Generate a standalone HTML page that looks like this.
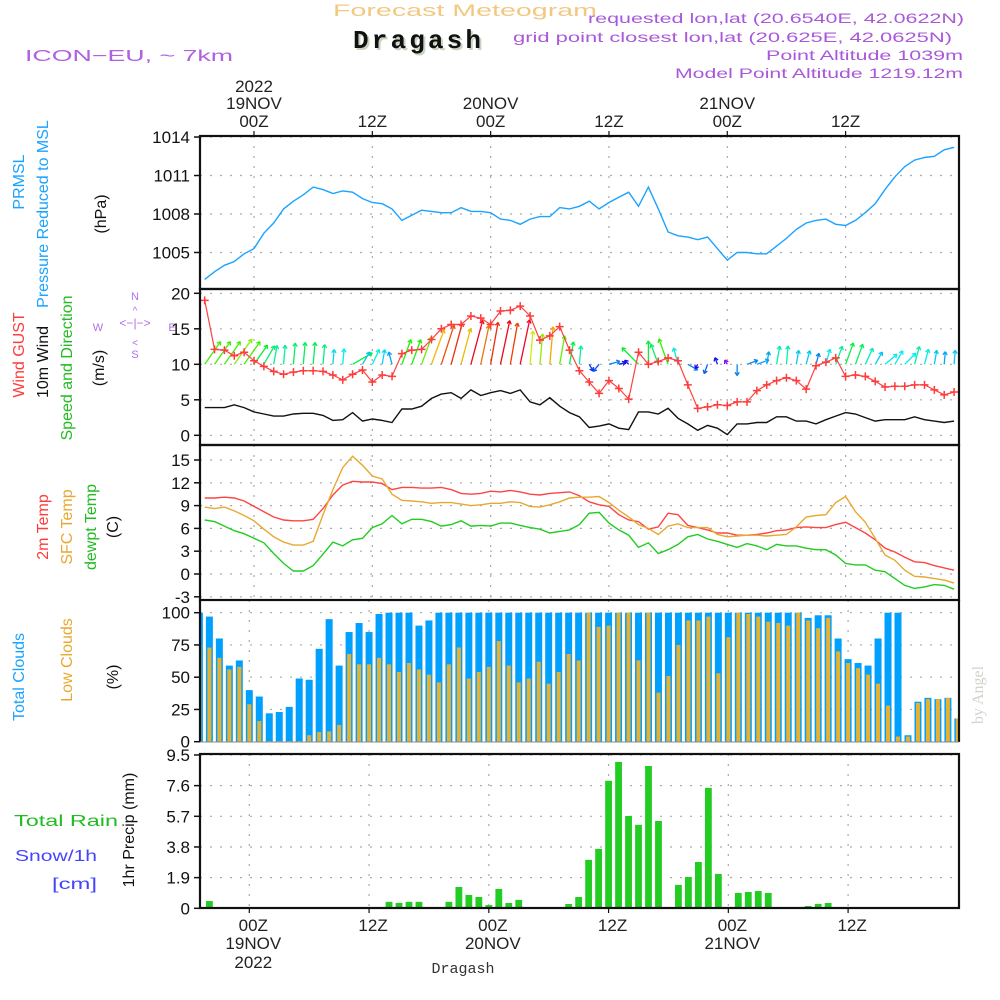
<!DOCTYPE html>
<html><head><meta charset="utf-8">
<style>
html,body{margin:0;padding:0;background:#fff;}
svg{display:block;font-family:"Liberation Sans",sans-serif;}
</style></head>
<body>
<svg id="chart" width="1000" height="1000" viewBox="0 0 1000 1000" xmlns="http://www.w3.org/2000/svg">
<rect width="1000" height="1000" fill="#fff"/>
<!-- header -->
<text x="333" y="16" font-size="17" fill="#f2c882" textLength="264" lengthAdjust="spacingAndGlyphs">Forecast Meteogram</text>
<text x="355" y="50" font-size="26" font-weight="bold" font-family="Liberation Mono, monospace" fill="#c8d4c0" textLength="128">Dragash</text>
<text x="353" y="48" font-size="26" font-weight="bold" font-family="Liberation Mono, monospace" fill="#111" textLength="128">Dragash</text>
<text x="25" y="61" font-size="16" fill="#b060e0" textLength="208" lengthAdjust="spacingAndGlyphs">ICON−EU, ~ 7km</text>
<g font-size="14" fill="#a858d8" text-anchor="end">
<text x="964" y="23" textLength="376" lengthAdjust="spacingAndGlyphs">requested lon,lat (20.6540E, 42.0622N)</text>
<text x="952" y="42" textLength="439" lengthAdjust="spacingAndGlyphs">grid point closest lon,lat (20.625E, 42.0625N)</text>
<text x="963" y="60" textLength="197" lengthAdjust="spacingAndGlyphs">Point Altitude 1039m</text>
<text x="963" y="78" textLength="288" lengthAdjust="spacingAndGlyphs">Model Point Altitude 1219.12m</text>
</g>
<!-- left labels -->
<g font-size="16">
<text transform="translate(24,182) rotate(-90)" text-anchor="middle" fill="#1aa3ff">PRMSL</text>
<text transform="translate(48,214) rotate(-90)" text-anchor="middle" fill="#1aa3ff">Pressure Reduced to MSL</text>
<text transform="translate(106,214) rotate(-90)" text-anchor="middle" fill="#111">(hPa)</text>
<text transform="translate(24,355) rotate(-90)" text-anchor="middle" fill="#ff3b3b">Wind GUST</text>
<text transform="translate(48,362) rotate(-90)" text-anchor="middle" fill="#111">10m Wind</text>
<text transform="translate(72,368) rotate(-90)" text-anchor="middle" fill="#22bb22">Speed and Direction</text>
<text transform="translate(104,368) rotate(-90)" text-anchor="middle" fill="#111">(m/s)</text>
<text transform="translate(48,527) rotate(-90)" text-anchor="middle" fill="#ff3b3b">2m Temp</text>
<text transform="translate(72,527) rotate(-90)" text-anchor="middle" fill="#e8a830">SFC Temp</text>
<text transform="translate(96,527) rotate(-90)" text-anchor="middle" fill="#22bb22">dewpt Temp</text>
<text transform="translate(118,527) rotate(-90)" text-anchor="middle" fill="#111">(C)</text>
<text transform="translate(24,677) rotate(-90)" text-anchor="middle" fill="#1aa3ff">Total Clouds</text>
<text transform="translate(72,660) rotate(-90)" text-anchor="middle" fill="#e8a830">Low Clouds</text>
<text transform="translate(118,677) rotate(-90)" text-anchor="middle" fill="#111">(%)</text>
<text transform="translate(134,830) rotate(-90)" text-anchor="middle" fill="#111">1hr Precip (mm)</text>
<text x="14" y="826" fill="#22bb22" textLength="104" lengthAdjust="spacingAndGlyphs">Total  Rain</text>
<text x="15" y="861" fill="#4444ff" textLength="82" lengthAdjust="spacingAndGlyphs">Snow/1h</text>
<text x="52" y="889" fill="#4444ff" textLength="45" lengthAdjust="spacingAndGlyphs">[cm]</text>
</g>
<!-- compass -->
<g fill="#b070e8" stroke="none" font-size="11" text-anchor="middle">
<text x="135" y="300">N</text><text x="135" y="358">S</text><text x="98" y="331">W</text><text x="172" y="331">E</text>
<text x="135" y="327" font-size="12">&lt;−|−&gt;</text>
<text x="135" y="314" font-size="10">^</text><text x="135" y="346" font-size="10">&lt;</text>
</g>
<text transform="translate(983,695) rotate(-90)" text-anchor="middle" font-family="Liberation Serif, serif" font-size="16" fill="#d0d4cc">by Angel</text>
<text x="463" y="973" text-anchor="middle" font-family="Liberation Mono, monospace" font-size="15" fill="#333">Dragash</text>
<g id="plot"></g>
</svg>
<script>
// ---- data (hourly, from 18NOV 19Z = hour -5 to 21NOV 23Z = hour 71) ----
const hours = Array.from({length:77},(_,i)=>i-5);
const pressure = [1002.9,1003.5,1004.0,1004.3,1004.9,1005.3,1006.5,1007.3,1008.4,1009.0,1009.5,1010.1,1009.9,1009.6,1009.8,1009.7,1009.2,1008.9,1008.8,1008.4,1007.5,1007.9,1008.3,1008.2,1008.1,1008.1,1008.5,1008.2,1008.2,1008.1,1007.6,1007.5,1007.2,1007.6,1007.8,1007.8,1008.5,1008.4,1008.6,1009.0,1008.4,1008.9,1009.3,1009.7,1008.6,1010.1,1008.4,1006.6,1006.3,1006.2,1006.0,1006.2,1005.3,1004.4,1005.0,1005.0,1004.9,1004.9,1005.5,1006.1,1006.8,1007.3,1007.5,1007.6,1007.2,1007.1,1007.5,1008.1,1008.8,1009.9,1010.9,1011.7,1012.2,1012.4,1012.5,1013.0,1013.2];
const wind10m = [3.9,3.9,3.9,4.3,3.9,3.3,3.0,2.7,2.7,3.0,3.1,3.1,2.8,2.1,2.2,3.2,2.0,2.3,2.1,1.8,3.7,3.7,4.1,5.2,5.8,6.0,5.2,6.4,5.6,6.0,6.3,5.9,6.4,4.7,4.3,5.3,4.1,3.2,2.6,1.1,1.3,1.6,1.0,0.8,3.3,3.3,3.0,3.8,2.4,1.6,0.7,1.4,1.0,0.1,1.6,1.6,1.8,1.8,2.6,2.6,2.0,2.0,1.6,2.2,2.7,3.2,3.0,2.5,2.0,2.2,2.2,2.2,2.6,2.2,2.0,1.8,2.0];
const windDir = [35,35,35,35,35,35,30,10,5,5,5,5,5,5,5,60,30,25,10,-15,20,20,20,20,18,15,15,15,12,10,12,10,12,5,5,5,10,10,5,150,220,75,75,-45,-45,0,-20,-20,-15,120,210,200,-20,-30,180,70,70,10,10,5,10,15,15,15,20,20,20,25,30,50,30,45,15,15,10,5,5];
const gust = [19.0,12.1,12.0,11.2,11.7,10.5,9.7,9.0,8.6,8.9,9.1,9.1,9.0,8.5,7.8,8.6,9.2,7.5,8.5,8.3,11.5,12.0,12.1,13.5,15.0,15.6,15.6,16.8,16.5,15.6,17.5,17.6,18.2,16.8,13.4,14.0,15.3,12.0,9.1,7.5,5.9,7.7,6.6,5.1,11.7,10.0,10.4,10.9,10.5,7.1,3.8,4.0,4.3,4.2,4.7,4.7,6.3,7.1,7.7,8.1,7.7,6.5,9.8,10.3,10.9,8.3,8.5,8.3,7.6,6.8,6.9,6.9,7.1,7.1,6.4,5.7,6.1];
const temp2m = [10.0,10.0,10.1,10.0,9.6,8.9,8.2,7.5,7.1,7.0,7.0,7.2,8.6,10.4,11.7,12.2,12.1,12.1,11.9,11.1,11.4,11.4,11.3,11.3,11.4,11.1,10.6,10.5,10.6,10.9,10.8,11.0,10.8,10.5,10.4,10.6,10.7,10.8,10.3,9.5,9.1,8.9,7.8,7.1,6.9,5.9,6.2,8.0,7.8,6.4,6.1,5.8,5.4,5.4,5.1,5.1,5.2,5.4,5.7,5.8,6.1,6.2,6.1,6.1,6.5,6.8,6.1,5.4,4.5,3.4,2.9,2.2,1.6,1.5,1.1,0.8,0.5];
const tempSfc = [8.8,8.6,8.8,8.3,7.7,7.0,5.9,4.9,4.2,3.8,3.8,4.3,7.8,11.1,14.0,15.5,14.3,12.9,12.5,10.5,9.7,9.6,9.5,9.3,9.4,9.4,9.2,9.0,9.1,9.3,9.3,9.5,9.4,8.9,8.8,9.1,9.5,10.0,10.1,10.1,10.2,9.4,8.4,7.5,6.5,6.0,5.2,6.3,6.6,6.1,6.1,6.1,5.2,4.9,5.0,5.1,5.1,5.0,5.1,5.2,6.2,7.5,7.7,7.8,9.4,10.2,8.2,6.8,4.7,2.5,1.8,0.5,-0.3,-0.4,-0.6,-0.8,-1.2];
const dewpt = [7.1,6.9,6.3,5.7,5.3,4.7,4.1,2.7,1.4,0.4,0.4,1.1,2.6,4.2,3.7,4.5,4.7,6.1,6.6,7.7,6.6,7.2,7.2,6.9,6.3,6.5,7.0,6.3,6.4,6.3,6.7,6.7,6.4,6.1,5.9,5.4,5.6,5.8,6.5,8.0,8.1,6.7,5.8,5.1,3.5,4.1,2.7,3.2,3.9,4.9,5.2,4.6,4.3,3.9,3.5,4.0,3.7,3.2,3.9,3.7,3.7,3.4,3.2,3.2,2.5,1.4,1.2,1.2,0.5,0.3,-0.6,-1.5,-1.9,-1.7,-1.4,-1.5,-2.0];
const totalClouds = [100,97,80,59,63,40,35,22,23,27,49,48,72,95,59,85,92,85,99,100,100,100,90,94,100,100,100,100,100,100,100,100,100,100,100,100,100,100,100,100,100,100,100,100,100,100,100,100,100,100,100,100,100,100,100,100,100,100,100,100,100,96,98,98,80,64,61,59,80,100,100,5,31,34,33,34,18];
const lowClouds = [75,73,65,56,58,29,16,0.5,0.5,0.5,0.5,5,7.5,8,13,68,60,60,65,60,54,61,56,52,46,60,73,49,54,58,78,59,46,49,62,45,54,68,63,100,89,90,100,100,63,100,38,51,75,94,94,97,53,81,100,99,97,93,92,90,100,94,88,96,70,61,57,52,45,28,4,4,30,33,33,34,18];
const precip = [0,0.45,0.08,0,0,0,0,0,0,0,0,0,0,0,0,0,0,0,0.08,0.4,0.33,0.4,0.4,0.04,0,0.4,1.32,0.83,0.7,0.2,1.2,0.33,0.52,0,0,0,0,0.27,0.7,3.0,3.68,7.9,9.07,5.72,5.17,8.82,5.41,0.08,1.45,1.94,2.87,7.46,2.13,0,0.95,1.01,1.07,0.95,0.04,0.04,0,0.14,0.27,0.33,0.08,0,0,0.08,0,0,0,0,0,0,0,0,0];
const pressTicks = [1005,1008,1011,1014];
const windTicks = [0,5,10,15,20];
const tempTicks = [-3,0,3,6,9,12,15];
const cloudTicks = [0,25,50,75,100];
const precipTicks = [0,1.9,3.8,5.7,7.6,9.5];
const precipTickLabels = ["0","1.9","3.8","5.7","7.6","9.5"];
const gridHours = [0,12,24,36,48,60];
const topLabels = [["2022","19NOV","00Z"],["","","12Z"],["","20NOV","00Z"],["","","12Z"],["","21NOV","00Z"],["","","12Z"]];
const bottomLabels = [["00Z","19NOV","2022"],["12Z","",""],["00Z","20NOV",""],["12Z","",""],["00Z","21NOV",""],["12Z","",""]];

// ---- layout ----
const L=200, R=959;
const xA = h => 254 + 9.86*h;
const xB = h => 249.3 + 9.98*h;
const yP = p => 214 - (p-1008)*12.83;
const yW = w => 435.3 - w*7.1;
const yT = t => 574 - t*7.6;
const yC = c => 741.7 - c*1.29;
const yR = r => 908.3 - r*16.14;

const NS="http://www.w3.org/2000/svg";
const plot=document.getElementById('plot');
function mk(tag,attrs,parent){const e=document.createElementNS(NS,tag);for(const k in attrs)e.setAttribute(k,attrs[k]);(parent||plot).appendChild(e);return e;}

const defs=mk('defs',{});
[['clipA',136,445-136+155],['clipB',600,310]].forEach(([id,y,h])=>{const c=mk('clipPath',{id:id},defs);mk('rect',{x:L,y:y,width:R-L,height:h},c);});

function grid(yTop,yBot,ticks,yf,xf,labels,nm){
  ticks.forEach((t,i)=>{
    const y=yf(t);
    const g=mk('line',{x1:L,x2:R,y1:y,y2:y,stroke:'#aaa','stroke-width':1.2,'stroke-dasharray':'2,8'});
    
    
    mk('line',{x1:L-6,x2:L,y1:y,y2:y,stroke:'#111','stroke-width':1.5});
    const tx=mk('text',{x:L-10,y:y+6,'text-anchor':'end','font-size':17,fill:'#111'});
    tx.textContent=labels?labels[i]:String(t);
    
    
  });
  gridHours.forEach(h=>{
    const x=xf(h);
    const g=mk('line',{x1:x,x2:x,y1:yTop,y2:yBot,stroke:'#aaa','stroke-width':1.2,'stroke-dasharray':'2,8'});
    
    
  });
}
grid(136,289,pressTicks,yP,xA,null,'pressure');
grid(289,445,windTicks,yW,xA,null,'wind');
grid(445,600,tempTicks,yT,xA,null,'temp');
grid(600,742,cloudTicks,yC,xB,null,'cloud');
grid(754,908,precipTicks,yR,xB,precipTickLabels,'precip');

gridHours.forEach((h,i)=>{
  const x=xA(h);
  mk('line',{x1:x,x2:x,y1:131,y2:136,stroke:'#111','stroke-width':1.2});
  topLabels[i].forEach((s,j)=>{ if(!s)return;
    const t=mk('text',{x:x,y:[92,109,127][j],'text-anchor':'middle','font-size':17,fill:'#222'});
    t.textContent=s;
    
    
  });
});
gridHours.forEach((h,i)=>{
  const x=xB(h)+4;
  mk('line',{x1:x-4,x2:x-4,y1:908,y2:913,stroke:'#111','stroke-width':1.2});
  bottomLabels[i].forEach((s,j)=>{ if(!s)return;
    const t=mk('text',{x:x,y:[931,949,968][j],'text-anchor':'middle','font-size':17,fill:'#222'});
    t.textContent=s;
    
    
  });
});

function line(vals,xf,yf,color,nm,w){
  const d=vals.map((v,i)=>(i?'L':'M')+xf(hours[i]).toFixed(1)+','+yf(v).toFixed(1)).join('');
  const p=mk('path',{d:d,fill:'none',stroke:color,'stroke-width':w||1.4,'clip-path':'url(#clipA)'});
  
  
  return p;
}
line(pressure,xA,yP,'#1aa3ff','pressure-line');
line(wind10m,xA,yW,'#111','wind-10m-line');

function hueFor(w){let h=280-45*w;if(h<0)h+=360;return h;}
wind10m.forEach((w,i)=>{
  const x0=xA(hours[i]), y0=yW(10);
  const len=Math.max(w*7.1,5), a=windDir[i]*Math.PI/180;
  const x1=x0+len*Math.sin(a), y1=y0-len*Math.cos(a);
  const col='hsl('+hueFor(w)+',95%,48%)';
  const g=mk('g',{stroke:col,'stroke-width':1.3,fill:'none','clip-path':'url(#clipA)'});
  
  
  mk('line',{x1:x0,y1:y0,x2:x1,y2:y1},g);
  [a+Math.PI*0.82,a-Math.PI*0.82].forEach(b=>mk('line',{x1:x1,y1:y1,x2:x1+4*Math.sin(b),y2:y1-4*Math.cos(b)},g));
});

line(gust,xA,yW,'#ff4040','wind-gust-line',1.2);
gust.forEach((g,i)=>{
  const x=xA(hours[i]),y=yW(g);
  const m=mk('path',{d:`M${x-4},${y}H${x+4}M${x},${y-4}V${y+4}`,stroke:'#ff3b3b','stroke-width':1.5,'clip-path':'url(#clipA)'});
  
  
});

line(temp2m,xA,yT,'#ff4444','temp-2m-line');
line(tempSfc,xA,yT,'#e8a830','temp-sfc-line');
line(dewpt,xA,yT,'#22cc22','dewpoint-line');

totalClouds.forEach((c,i)=>{
  const x=xB(hours[i]);
  const b=mk('rect',{x:x-3.5,y:yC(c),width:7,height:yC(0)-yC(c),fill:'#00a0ff','clip-path':'url(#clipB)'});
  
  
});
lowClouds.forEach((c,i)=>{
  const x=xB(hours[i]);
  const b=mk('rect',{x:x-2,y:yC(c),width:4,height:yC(0)-yC(c),fill:'#e8b030','clip-path':'url(#clipB)'});
  
  
});
precip.forEach((r,i)=>{
  if(r<=0)return;
  const x=xB(hours[i]);
  const b=mk('rect',{x:x-3.4,y:yR(r),width:6.8,height:yR(0)-yR(r),fill:'#22cc22','clip-path':'url(#clipB)'});
  
  
});

[[136,289],[289,445],[445,600],[754,908]].forEach(([a,b])=>{
  const f=mk('rect',{x:L,y:a,width:R-L,height:b-a,fill:'none',stroke:'#111','stroke-width':2.2});
  
  
});
mk('line',{x1:L,x2:L,y1:600,y2:742,stroke:'#111','stroke-width':2.2});
mk('line',{x1:R,x2:R,y1:600,y2:742,stroke:'#111','stroke-width':2.2});
mk('line',{x1:L,x2:R,y1:742,y2:742,stroke:'#888','stroke-width':1});
</script>
</body></html>
